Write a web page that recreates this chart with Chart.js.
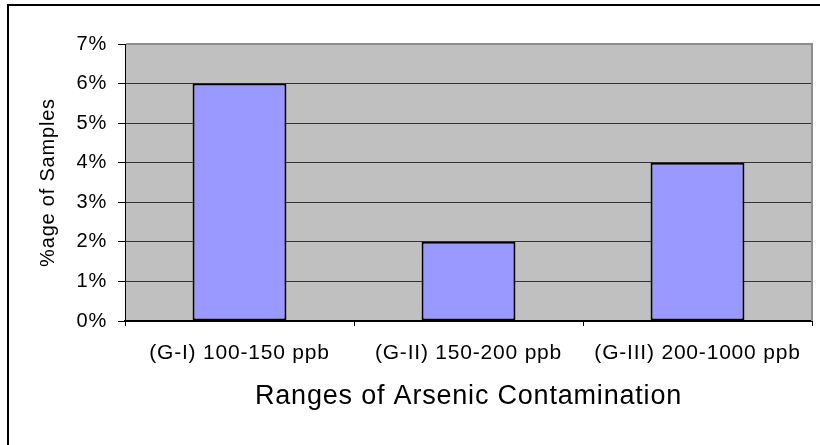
<!DOCTYPE html>
<html>
<head>
<meta charset="utf-8">
<script src="https://cdn.jsdelivr.net/npm/chart.js@4/dist/chart.umd.min.js"></script>
<style>
  body { margin: 0; background: #fff; overflow: hidden; }
  #wrap { position: relative; width: 820px; height: 445px; }
  #frame {
    position: absolute; left: 7px; top: 4px; width: 900px; height: 500px;
    border-left: 2px solid #000; border-top: 2px solid #000; pointer-events: none;
  }
</style>
</head>
<body>
<div id="wrap">
  <canvas id="chart" width="820" height="445"></canvas>
  <div id="frame"></div>
</div>
<script>
const categories = ["(G-I) 100-150 ppb", "(G-II) 150-200 ppb", "(G-III) 200-1000 ppb"];
const samplePercent = [6, 2, 4];
const yTicks = [0, 1, 2, 3, 4, 5, 6, 7];

const fontFamily = "'Liberation Sans', Arial, sans-serif";

// grey plot area, thin grey edge on top/right, slightly wider lettering
const plotArea = {
    id: 'plotArea',
    beforeDraw(chart) {
        const ctx = chart.ctx;
        ctx.letterSpacing = '0.8px';
        const a = chart.chartArea;
        ctx.save();
        ctx.fillStyle = '#C0C0C0';
        ctx.fillRect(a.left, a.top, a.right - a.left, a.bottom - a.top);
        ctx.restore();
    },
    beforeDatasetsDraw(chart) {
        const ctx = chart.ctx;
        const a = chart.chartArea;
        ctx.save();
        ctx.strokeStyle = '#8c8c8c';
        ctx.lineWidth = 2;
        ctx.beginPath();
        ctx.moveTo(a.left + 1, a.top);
        ctx.lineTo(a.right, a.top);
        ctx.lineTo(a.right, a.bottom);
        ctx.stroke();
        ctx.restore();
    }
};

const ctx = document.getElementById('chart');

const chart = new Chart(ctx, {
    type: 'bar',
    data: {
        labels: categories,
        datasets: [{
            data: samplePercent,
            backgroundColor: '#9999FF',
            borderColor: '#000',
            borderWidth: 2,
            borderSkipped: false,
            barPercentage: 0.41,
            categoryPercentage: 1
        }]
    },
    options: {
        responsive: false,
        animation: false,
        layout: { padding: { left: 0, top: 44, right: 8, bottom: 0 } },
        scales: {
            x: {
                grid: {
                    offset: true,
                    drawOnChartArea: false,
                    tickLength: 5,
                    tickColor: '#000'
                },
                border: { display: true, color: '#000', width: 2 },
                ticks: {
                    color: '#000',
                    font: { family: fontFamily, size: 21 },
                    padding: 15,
                    autoSkip: false,
                    maxRotation: 0
                },
                title: {
                    display: true,
                    text: 'Ranges of Arsenic Contamination',
                    color: '#000',
                    font: { family: fontFamily, size: 27 },
                    padding: { top: 0, bottom: 32 }
                },
                afterFit: (scale) => { scale.height = 124; }
            },
            y: {
                min: 0,
                max: 7,
                afterBuildTicks: (scale) => { scale.ticks = yTicks.map(v => ({ value: v })); },
                grid: {
                    color: '#333',
                    lineWidth: 1,
                    tickLength: 7,
                    tickColor: '#000'
                },
                border: { display: true, color: '#000', width: 1 },
                ticks: {
                    color: '#000',
                    font: { family: fontFamily, size: 20 },
                    padding: 11,
                    callback: (v) => v + '%'
                },
                title: {
                    display: true,
                    text: '%age of Samples',
                    color: '#000',
                    font: { family: fontFamily, size: 20 },
                    padding: { top: 36, bottom: 0 }
                },
                afterFit: (scale) => { scale.width = 125; }
            }
        },
        plugins: {
            legend: { display: false },
            tooltip: { enabled: false }
        }
    },
    plugins: [plotArea]
});
</script>
</body>
</html>
